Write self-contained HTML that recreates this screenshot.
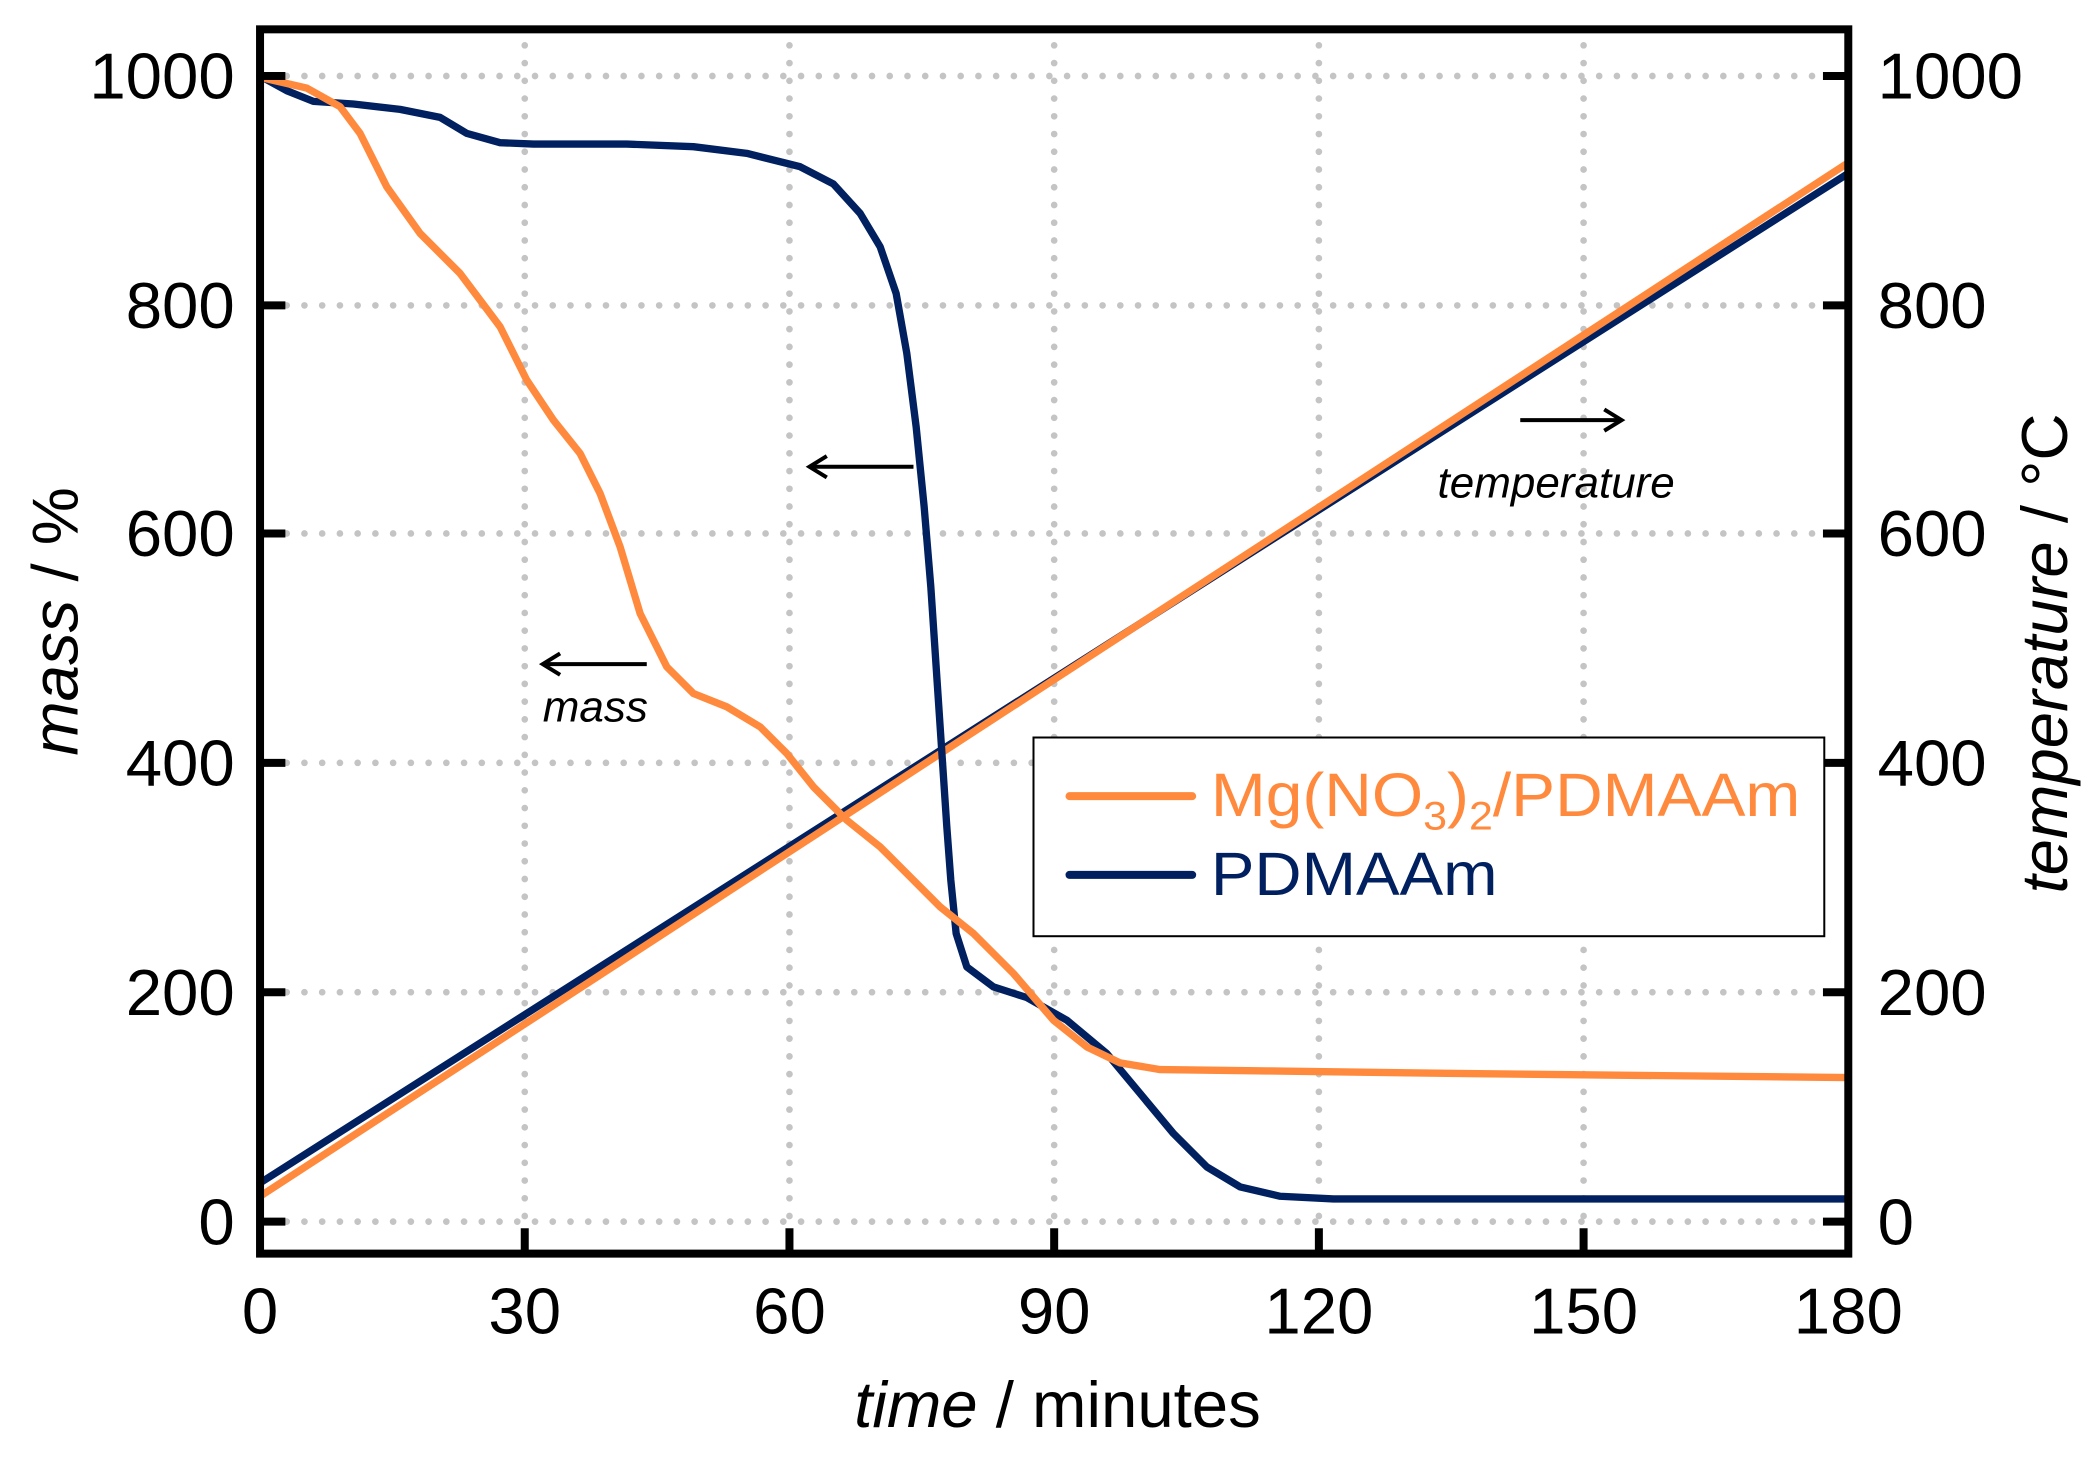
<!DOCTYPE html>
<html><head><meta charset="utf-8"><style>html,body{margin:0;padding:0;background:#fff}svg{display:block}</style></head><body>
<svg width="2091" height="1459" viewBox="0 0 1568 1094" preserveAspectRatio="none" font-family="Liberation Sans, Arial, sans-serif">
<rect width="1568" height="1094" fill="#fff"/>
<g stroke="#c4c4c4" stroke-width="5" stroke-linecap="round" stroke-dasharray="0 13.3">
<line x1="393.5" y1="34" x2="393.5" y2="936"/><line x1="592" y1="34" x2="592" y2="936"/><line x1="790.5" y1="34" x2="790.5" y2="936"/><line x1="989" y1="34" x2="989" y2="936"/><line x1="1187.5" y1="34" x2="1187.5" y2="936"/>
<line x1="215" y1="57" x2="1382" y2="57"/><line x1="215" y1="229" x2="1382" y2="229"/><line x1="215" y1="400" x2="1382" y2="400"/><line x1="215" y1="572" x2="1382" y2="572"/><line x1="215" y1="744" x2="1382" y2="744"/><line x1="215" y1="916" x2="1382" y2="916"/>
</g>
<g fill="none" stroke-width="5.5" stroke-linejoin="round" stroke-linecap="round">
<polyline stroke="#002060" points="195,887 1386,130"/>
<polyline stroke="#ff8a3d" points="195,897 1386,122"/>
<polyline stroke="#002060" points="195,57 215,68 235,76 265,78 300,82 330,88 350,100 375,107 400,108 470,108 520,110 560,115 600,125 625,138 645,160 660,185 672,220 680,265 687,320 693,380 698,440 702,500 706,560 710,620 713,660 717,700 725,725 745,740 770,748 800,765 830,790 855,820 880,850 905,875 930,890 960,897 1000,899 1386,899"/>
<polyline stroke="#ff8a3d" points="195,58 230,66 255,80 270,100 290,140 315,175 345,205 375,245 395,285 415,315 435,340 450,370 465,410 480,460 500,500 520,520 545,530 570,545 590,565 610,590 635,615 660,635 685,660 705,680 730,700 760,730 790,765 815,785 840,797 870,802 950,803 1100,805 1386,808"/>
</g>
<rect x="195" y="22" width="1191" height="918" fill="none" stroke="#000" stroke-width="6"/>
<g stroke="#000" stroke-width="6">
<line x1="195" y1="57" x2="214" y2="57"/><line x1="195" y1="229" x2="214" y2="229"/><line x1="195" y1="400" x2="214" y2="400"/><line x1="195" y1="572" x2="214" y2="572"/><line x1="195" y1="744" x2="214" y2="744"/><line x1="195" y1="916" x2="214" y2="916"/>
<line x1="1367" y1="57" x2="1386" y2="57"/><line x1="1367" y1="229" x2="1386" y2="229"/><line x1="1367" y1="400" x2="1386" y2="400"/><line x1="1367" y1="572" x2="1386" y2="572"/><line x1="1367" y1="744" x2="1386" y2="744"/><line x1="1367" y1="916" x2="1386" y2="916"/>
<line x1="393.5" y1="940" x2="393.5" y2="921"/><line x1="592" y1="940" x2="592" y2="921"/><line x1="790.5" y1="940" x2="790.5" y2="921"/><line x1="989" y1="940" x2="989" y2="921"/><line x1="1187.5" y1="940" x2="1187.5" y2="921"/>
</g>
<g font-size="49" fill="#000" text-anchor="end">
<text x="176" y="74">1000</text><text x="176" y="246">800</text><text x="176" y="417">600</text><text x="176" y="589">400</text><text x="176" y="761">200</text><text x="176" y="933">0</text>
</g>
<g font-size="49" fill="#000" text-anchor="start">
<text x="1408" y="74">1000</text><text x="1408" y="246">800</text><text x="1408" y="417">600</text><text x="1408" y="589">400</text><text x="1408" y="761">200</text><text x="1408" y="933">0</text>
</g>
<g font-size="49" fill="#000" text-anchor="middle">
<text x="195" y="1000">0</text><text x="393.5" y="1000">30</text><text x="592" y="1000">60</text><text x="790.5" y="1000">90</text><text x="989" y="1000">120</text><text x="1187.5" y="1000">150</text><text x="1386" y="1000">180</text>
</g>
<text x="793" y="1070" font-size="49" text-anchor="middle"><tspan font-style="italic">time</tspan> / minutes</text>
<text transform="translate(58,466) rotate(-90)" font-size="49" text-anchor="middle"><tspan font-style="italic">mass</tspan> / %</text>
<text transform="translate(1550,490) rotate(-90)" font-size="49" text-anchor="middle"><tspan font-style="italic">temperature</tspan> / °C</text>
<g stroke="#000" stroke-width="3" fill="none">
<line x1="485" y1="498" x2="407" y2="498"/><polyline points="420,490 407,498 420,506"/>
<line x1="685" y1="350" x2="607" y2="350"/><polyline points="620,342 607,350 620,358"/>
<line x1="1140" y1="315" x2="1216" y2="315"/><polyline points="1203,307 1216,315 1203,323"/>
</g>
<text x="407" y="541" font-size="33" font-style="italic">mass</text>
<text x="1078" y="373" font-size="33" font-style="italic">temperature</text>
<rect x="775" y="553" width="593" height="149" fill="#fff" stroke="#000" stroke-width="1.5"/>
<line x1="802" y1="597" x2="894" y2="597" stroke="#ff8a3d" stroke-width="6" stroke-linecap="round"/>
<line x1="802" y1="656" x2="894" y2="656" stroke="#002060" stroke-width="6" stroke-linecap="round"/>
<text x="908" y="612" font-size="46" fill="#ff8a3d" textLength="442" lengthAdjust="spacingAndGlyphs">Mg(NO<tspan font-size="30" dy="10">3</tspan><tspan dy="-10">)</tspan><tspan font-size="30" dy="10">2</tspan><tspan dy="-10">/PDMAAm</tspan></text>
<text x="908" y="671" font-size="46" fill="#002060" textLength="215" lengthAdjust="spacingAndGlyphs">PDMAAm</text>
</svg>
</body></html>
